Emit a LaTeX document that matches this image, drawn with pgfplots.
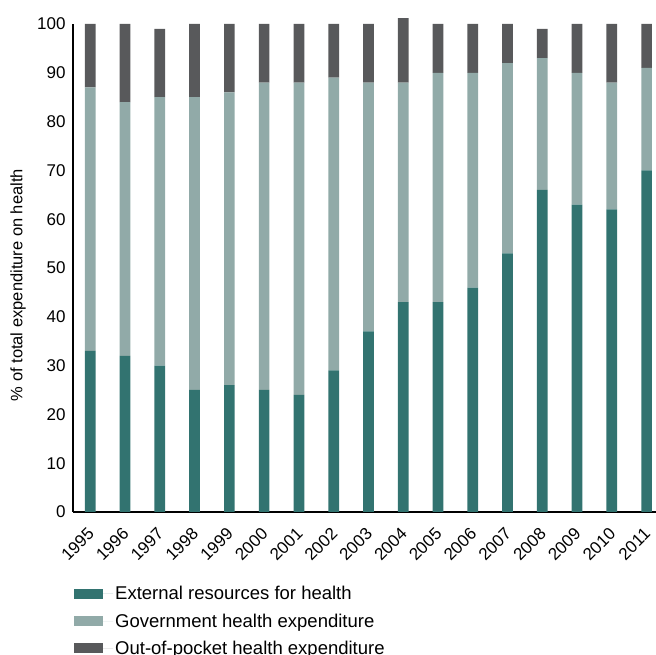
\documentclass[border=0pt]{standalone}
\usepackage{pgfplots}
\pgfplotsset{compat=1.18}
\usepackage{fontspec}
\setmainfont{Liberation Sans}
\definecolor{ext}{HTML}{327370}
\definecolor{gov}{HTML}{91AAA8}
\definecolor{oop}{HTML}{58595B}
\begin{document}
\begin{tikzpicture}
\useasboundingbox (-73pt,-143pt) rectangle (583pt,512pt);
\begin{axis}[
  at={(0,0)}, anchor=south west,
  scale only axis, width=583pt, height=488pt,
  ybar stacked, bar width=10.7pt,
  xmin=-0.497, xmax=16.27, ymin=0, ymax=100,
  clip=false,
  axis x line*=bottom, axis y line*=left,
  axis line style={-, black, line width=1.1pt},
  major tick length=0pt,
  ytick={0,10,...,100},
  xtick={0,...,16},
  xticklabels={1995,1996,1997,1998,1999,2000,2001,2002,2003,2004,2005,2006,2007,2008,2009,2010,2011},
  yticklabel style={font=\fontsize{17}{20}\selectfont, /pgf/number format/assume math mode=true, xshift=-4pt},
  xticklabel style={font=\fontsize{17}{20}\selectfont, rotate=45, anchor=north east, inner sep=1pt, xshift=-11.8pt, yshift=-6.7pt},
  ylabel={\% of total expenditure on health},
  ylabel style={font=\fontsize{16.5}{20}\selectfont, at={(axis description cs:-0.0943,0.465)}, anchor=center},
  legend style={at={(axis description cs:0,0)}, anchor=north west, xshift=-2pt, yshift=-70pt, draw=none, fill=none,
    font=\fontsize{18.5}{22}\selectfont, row sep=8.5pt},
  legend cell align=left,
  legend image code/.code={\fill[#1] (0pt,-5pt) rectangle (29pt,5pt); \path (29pt,0pt) -- (39pt,0pt);},
]
\addplot[fill=ext, draw=none] coordinates {(0,33) (1,32) (2,30) (3,25) (4,26) (5,25) (6,24) (7,29) (8,37) (9,43) (10,43) (11,46) (12,53) (13,66) (14,63) (15,62) (16,70)};
\addplot[fill=gov, draw=none] coordinates {(0,54) (1,52) (2,55) (3,60) (4,60) (5,63) (6,64) (7,60) (8,51) (9,45) (10,47) (11,44) (12,39) (13,27) (14,27) (15,26) (16,21)};
\addplot[fill=oop, draw=none] coordinates {(0,13) (1,16) (2,14) (3,15) (4,14) (5,12) (6,12) (7,11) (8,12) (9,13.2) (10,10) (11,10) (12,8) (13,6) (14,10) (15,12) (16,9)};
\legend{External resources for health, Government health expenditure, Out-of-pocket health expenditure}
\end{axis}
\end{tikzpicture}
\end{document}
